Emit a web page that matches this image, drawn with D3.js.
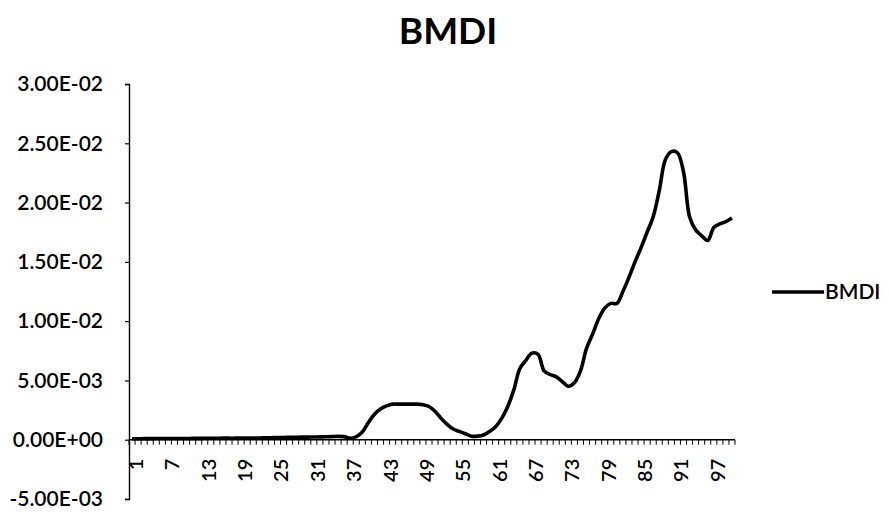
<!DOCTYPE html>
<html>
<head>
<meta charset="utf-8">
<script src="https://cdn.jsdelivr.net/npm/d3@7"></script>
<style>
  html, body { margin: 0; padding: 0; background: #fff; }
  svg { display: block; }
  text { font-family: Lato, "Open Sans", sans-serif; fill: #000; }
</style>
</head>
<body>
<svg id="chart" width="889" height="515"></svg>
<script>
// BMDI series, one value per period 1..100
const categories = d3.range(1, 101);
const bmdi = [
  0.00008, 0.00008, 0.00009, 0.00009, 0.00010, 0.00010, 0.00010, 0.00010, 0.00010, 0.00010,
  0.00011, 0.00011, 0.00012, 0.00012, 0.00012, 0.00013, 0.00013, 0.00013, 0.00014, 0.00014,
  0.00015, 0.00015, 0.00016, 0.00017, 0.00018, 0.00019, 0.00020, 0.00021, 0.00022, 0.00022,
  0.00023, 0.00024, 0.00025, 0.00026, 0.00028, 0.00026, 0.00012, 0.00025, 0.00065, 0.00145,
  0.00215, 0.00260, 0.00285, 0.00300, 0.00300, 0.00300, 0.00300, 0.00300, 0.00295, 0.00280,
  0.00240, 0.00180, 0.00130, 0.00090, 0.00070, 0.00050, 0.00030, 0.00030, 0.00040, 0.00070,
  0.00110, 0.00180, 0.00280, 0.00420, 0.00600, 0.00670, 0.00730, 0.00720, 0.00580, 0.00550,
  0.00530, 0.00490, 0.00450, 0.00480, 0.00580, 0.00770, 0.00890, 0.01020, 0.01110, 0.01150,
  0.01150, 0.01250, 0.01370, 0.01500, 0.01620, 0.01750, 0.01880, 0.02100, 0.02360, 0.02430,
  0.02420, 0.02260, 0.01880, 0.01770, 0.01720, 0.01680, 0.01790, 0.01820, 0.01840, 0.01870
];
const xTickLabels = [1, 7, 13, 19, 25, 31, 37, 43, 49, 55, 61, 67, 73, 79, 85, 91, 97];
const yTickValues = [-0.005, 0, 0.005, 0.01, 0.015, 0.02, 0.025, 0.03];
const seriesName = "BMDI";

const svg = d3.select("#chart");
const plotLeft = 129, plotRight = 735, plotTop = 84, plotBottom = 499;

const x = d3.scalePoint().domain(categories).range([plotLeft, plotRight]).padding(0.5);
const y = d3.scaleLinear().domain([-0.005, 0.03]).range([plotBottom, plotTop]);

// Exponential labels like 3.00E-02
function sci(v) {
  if (Math.abs(v) < 1e-12) return "0.00E+00";
  const [m, e] = v.toExponential(2).split("e");
  const n = +e;
  return m + "E" + (n < 0 ? "-" : "+") + String(Math.abs(n)).padStart(2, "0");
}

// Title
svg.append("text")
  .attr("x", 448).attr("y", 44)
  .attr("text-anchor", "middle")
  .style("font-size", "37px").style("font-weight", "700")
  .text(seriesName);

// Y axis
const yAxis = d3.axisLeft(y).tickValues(yTickValues).tickFormat(sci).tickSize(4).tickPadding(22);
const gy = svg.append("g").attr("transform", `translate(${plotLeft},0)`).call(yAxis);
gy.select(".domain").attr("stroke", "#000").attr("stroke-width", 1.4);
gy.selectAll(".tick line").attr("stroke", "#000").attr("stroke-width", 1.2);
gy.selectAll(".tick text")
  .style("font-size", "21px").style("font-weight", "600")
  .style("font-family", "Lato, 'Open Sans', sans-serif");

// X axis along zero, with a tick between every category
const step = x.step();
const y0 = y(0);
const gx = svg.append("g");
gx.append("line")
  .attr("x1", plotLeft).attr("x2", plotRight)
  .attr("y1", y0).attr("y2", y0)
  .attr("stroke", "#000").attr("stroke-width", 1.4);
gx.selectAll("line.tk")
  .data(d3.range(categories.length + 1))
  .join("line")
  .attr("class", "tk")
  .attr("x1", k => x(categories[0]) - step / 2 + k * step)
  .attr("x2", k => x(categories[0]) - step / 2 + k * step)
  .attr("y1", y0).attr("y2", y0 + 5)
  .attr("stroke", "#000").attr("stroke-width", 1);
gx.selectAll("text")
  .data(xTickLabels)
  .join("text")
  .attr("transform", d => `translate(${x(d) + 4},${y0 + 19}) rotate(-90)`)
  .attr("text-anchor", "end")
  .attr("dy", "0.35em")
  .style("font-size", "20px").style("font-weight", "600")
  .text(d => d);

// Series line
const line = d3.line()
  .x((d, i) => x(categories[i]))
  .y(d => y(d))
  .curve(d3.curveCatmullRom.alpha(0.5));
svg.append("path")
  .datum(bmdi)
  .attr("fill", "none")
  .attr("stroke", "#000")
  .attr("stroke-width", 3.6)
  .attr("stroke-linejoin", "round")
  .attr("d", line);

// Legend
const lg = svg.append("g").attr("transform", "translate(772,292)");
lg.append("line").attr("x1", 0).attr("x2", 52).attr("y1", 0).attr("y2", 0)
  .attr("stroke", "#000").attr("stroke-width", 3.6);
lg.append("text").attr("x", 53).attr("y", 0).attr("dy", "0.35em")
  .style("font-size", "21px").style("font-weight", "600")
  .text(seriesName);
</script>
</body>
</html>
